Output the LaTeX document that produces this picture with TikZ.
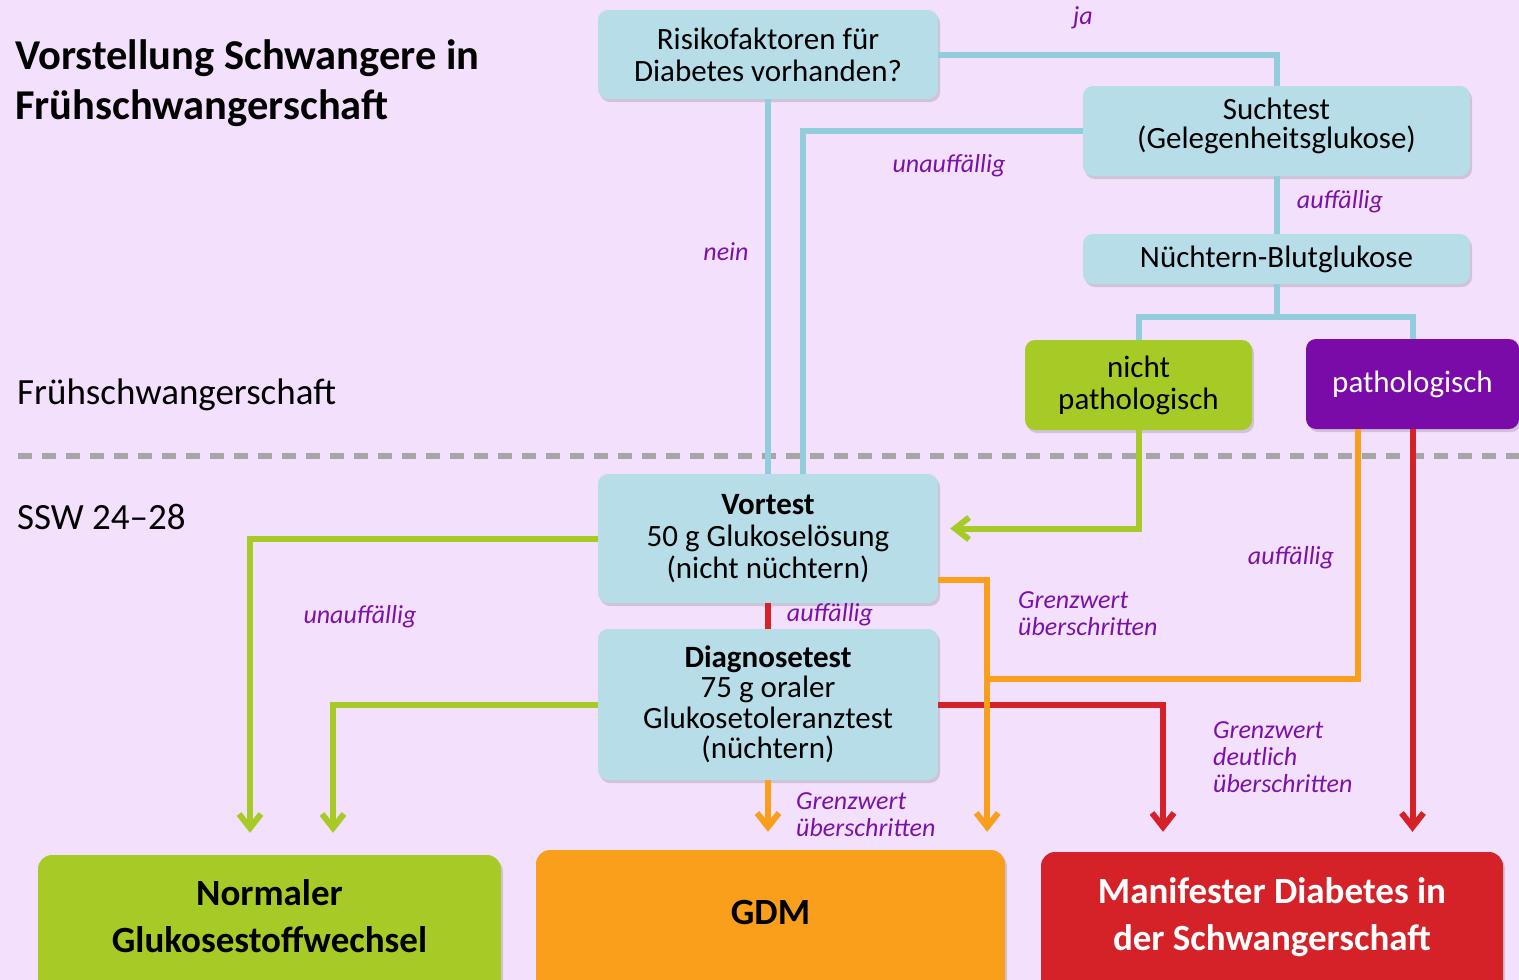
\documentclass[tikz,border=0pt]{standalone}
\usepackage{fontspec}
\setmainfont{Carlito}
\usetikzlibrary{arrows.meta,shadows}

\definecolor{bgpink}{HTML}{F3E0FD}
\definecolor{boxblue}{HTML}{B7DDE8}
\definecolor{lineblue}{HTML}{92CDDC}
\definecolor{okgreen}{HTML}{A6CB26}
\definecolor{gdmorange}{HTML}{F99F1C}
\definecolor{diabred}{HTML}{D52128}
\definecolor{pathpurple}{HTML}{7B0BA8}
\definecolor{labelpurple}{HTML}{7B12A8}
\definecolor{dashgray}{HTML}{A6A6A6}

\tikzset{
    box/.style={rectangle, rounded corners=10pt, inner sep=0pt, align=center,
        font=\fontsize{31}{32}\selectfont,
        drop shadow={shadow xshift=2pt, shadow yshift=-3pt, opacity=0.3}},
    bluebox/.style={box, fill=boxblue},
    endbox/.style={box, rounded corners=14pt, font=\fontsize{37}{47}\selectfont\bfseries},
    link/.style={line width=6pt},
    arrowlink/.style={link, -{Straight Barb[length=14pt,width=22pt]}},
    answer/.style={text=labelpurple, inner sep=0pt, align=left,
        font=\fontsize{26}{27}\selectfont\itshape},
}

\begin{document}
\begin{tikzpicture}[x=1pt, y=-1pt]
    \fill[bgpink] (0,0) rectangle (1519,980);
    \clip (0,0) rectangle (1519,980);

    % Ueberschriften
    \node[anchor=west, align=left, inner sep=0pt, font=\fontsize{42.5}{50}\selectfont\bfseries]
        (title) at (15,83) {Vorstellung Schwangere in\\Frühschwangerschaft};
    \node[anchor=west, inner sep=0pt, font=\fontsize{37}{40}\selectfont] (frueh) at (17,395) {Frühschwangerschaft};
    \node[anchor=west, inner sep=0pt, font=\fontsize{37}{40}\selectfont] (ssw) at (17,517) {SSW 24–28};
    \draw[dashgray, line width=6pt, dash pattern=on 14pt off 10pt] (18,456) -- (1519,456);

    % Kaesten
    \node[bluebox, minimum width=340pt, minimum height=89pt] (risiko) at (768,54.5) {Risikofaktoren für\\Diabetes vorhanden?};
    \node[bluebox, minimum width=387pt, minimum height=90pt, font=\fontsize{31}{29}\selectfont, text depth=16pt] (such) at (1276.5,131) {Suchtest\\(Gelegenheitsglukose)};
    \node[bluebox, minimum width=387pt, minimum height=50pt] (nuechtern) at (1276.5,259) {Nüchtern-Blutglukose};
    \node[box, fill=okgreen, minimum width=227pt, minimum height=90pt] (nichtpath) at (1138.5,385) {nicht\\pathologisch};
    \node[box, fill=pathpurple, text=white, minimum width=213pt, minimum height=90pt] (path) at (1412.5,384) {pathologisch};
    \node[bluebox, minimum width=340pt, minimum height=129pt] (vortest) at (768,538.5) {\textbf{Vortest}\\50 g Glukoselösung\\(nicht nüchtern)};
    \node[bluebox, minimum width=340pt, minimum height=151pt, font=\fontsize{31}{30.5}\selectfont] (diagnose) at (768,704.5) {\textbf{Diagnosetest}\\75 g oraler\\Glukosetoleranztest\\(nüchtern)};
    \node[endbox, fill=okgreen, minimum width=463pt, minimum height=150pt, text depth=28pt] (normal) at (269.5,930) {Normaler\\Glukosestoffwechsel};
    \node[endbox, fill=gdmorange, minimum width=469pt, minimum height=150pt, text depth=26pt] (gdm) at (770.5,925) {GDM};
    \node[endbox, fill=diabred, text=white, minimum width=462pt, minimum height=150pt, text depth=26pt] (manifest) at (1272,927) {Manifester Diabetes in\\der Schwangerschaft};

    % Fruehschwangerschaft
    \draw[link, lineblue] (risiko.east) -| (such.north);
    \draw[link, lineblue] (risiko.south) -- (vortest.north);
    \draw[link, lineblue] (such.west) -| ([xshift=35pt]vortest.north);
    \draw[link, lineblue] (such.south) -- (nuechtern.north);
    \draw[link, lineblue] (nuechtern.south) -- ++(0,33) coordinate (fork);
    \draw[link, lineblue] (nichtpath.north) |- (fork) -| (path.north);

    % SSW 24-28
    \coordinate (ojoin) at (987,679);
    \draw[arrowlink, okgreen] (nichtpath.south) |- ([xshift=12pt,yshift=10pt]vortest.east);
    \draw[arrowlink, okgreen, shorten >=22pt] (vortest.west) -| ([xshift=-19.5pt]normal.north);
    \draw[arrowlink, okgreen, shorten >=22pt] (diagnose.west) -| ([xshift=63.5pt]normal.north);
    \draw[link, diabred] (vortest.south) -- (diagnose.north);
    \draw[arrowlink, diabred, shorten >=20pt] (diagnose.east) -| ([xshift=-109pt]manifest.north);
    \draw[arrowlink, diabred, shorten >=20pt] (path.south) -- (path.south |- manifest.north);
    \draw[arrowlink, gdmorange, shorten >=18pt] (diagnose.south) -- (diagnose.south |- gdm.north);
    \draw[arrowlink, gdmorange, shorten >=18pt] ([yshift=-41.5pt]vortest.east) -| ([xshift=-18pt]gdm.north east);
    \draw[link, gdmorange] ([xshift=-55pt]path.south) |- (ojoin);

    % Antworten
    \node[answer] (ja) at (1083,18) {ja};
    \node[answer] (nein) at (726,252) {nein};
    \node[answer] (unauffsuch) at (949,166) {unauffällig};
    \node[answer] (auffsuch) at (1340,202) {auffällig};
    \node[answer] (unauffvor) at (360,617) {unauffällig};
    \node[answer] (auffvor) at (830,615) {auffällig};
    \node[answer, anchor=west] (grenzvor) at (1018,614) {Grenzwert\\überschritten};
    \node[answer] (auffpath) at (1291,558) {auffällig};
    \node[answer, anchor=west] (grenzdeut) at (1213,757) {Grenzwert\\deutlich\\überschritten};
    \node[answer, anchor=west] (grenzdiag) at (796,815) {Grenzwert\\überschritten};
\end{tikzpicture}
\end{document}
